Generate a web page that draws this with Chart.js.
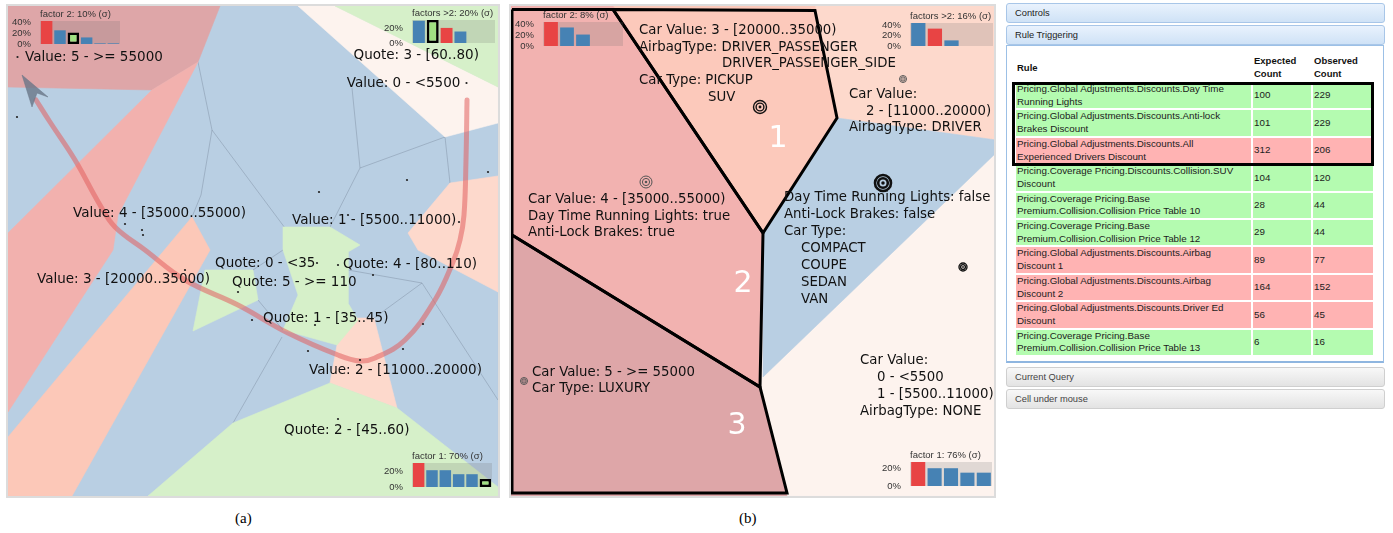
<!DOCTYPE html>
<html><head><meta charset="utf-8"><title>Voronoi rule maps</title>
<script src="https://cdn.jsdelivr.net/npm/chart.js@4.4.1/dist/chart.umd.min.js"></script>
<style>
html,body{margin:0;padding:0;background:#fff;}
body{width:1393px;height:533px;position:relative;overflow:hidden;}
canvas{position:absolute;}
.frame{position:absolute;border:2px solid #dcdcdc;box-sizing:border-box;pointer-events:none;}
.bar{position:absolute;left:1006px;width:379px;height:20px;box-sizing:border-box;border-radius:3px;font:9.3px "Liberation Sans",Arial,sans-serif;line-height:18px;padding-left:8px;color:#222;}
.blueBar{background:linear-gradient(#e9f2fd,#cfe2f6);border:1px solid #a8c6e8;}
.grayBar{background:linear-gradient(#f8f8f8,#e3e3e3);border:1px solid #cfcfcf;color:#444;}
#box{position:absolute;left:1006px;top:45px;width:378px;height:318px;box-sizing:border-box;border:1px solid #9cc0e6;border-bottom:2px solid #8fb6e0;background:#fff;}
#rules{position:absolute;left:1014px;top:53px;width:361px;border-collapse:separate;border-spacing:2px;table-layout:fixed;font:9.8px "Liberation Sans",Arial,sans-serif;color:#1c1c1c;}
#rules td,#rules th{padding:0 0 0 1px;vertical-align:middle;text-align:left;white-space:nowrap;line-height:12.7px;overflow:hidden;}
#rules th{font-weight:bold;font-size:9.5px;height:26px;color:#111;}
#rules td{height:25.2px;}
.ok{background:#b4fbb0;} .bad{background:#ffb3b3;}
#hl{position:absolute;left:1012px;top:81.5px;width:362px;height:84px;border:3px solid #000;box-sizing:border-box;}
.cap{position:absolute;top:510px;font:15px "Liberation Serif","Times New Roman",serif;color:#000;}
</style></head>
<body>
<canvas id="panelA" width="494" height="494" style="left:6px;top:4px"></canvas>
<canvas id="panelB" width="487" height="494" style="left:509px;top:4px"></canvas>
<div class="frame" style="left:6px;top:4px;width:494px;height:494px"></div>
<div class="frame" style="left:509px;top:4px;width:487px;height:494px"></div>

<div class="bar blueBar" style="top:3px">Controls</div>
<div class="bar blueBar" style="top:25px">Rule Triggering</div>
<div id="box"></div>
<table id="rules">
<colgroup><col style="width:235px"><col style="width:58px"><col style="width:60px"></colgroup>
<thead><tr><th>Rule</th><th>Expected<br>Count</th><th>Observed<br>Count</th></tr></thead>
<tbody id="rulesBody"></tbody>
</table>
<div id="hl"></div>
<div class="bar grayBar" style="top:367px">Current Query</div>
<div class="bar grayBar" style="top:389px">Cell under mouse</div>

<div class="cap" style="left:235px">(a)</div>
<div class="cap" style="left:739px">(b)</div>

<script>
// ================= DATA =================
// ---- Panel (a): Voronoi cells (map coordinates) ----
const cellA_background = [[8,6],[498,6],[498,496],[8,496]];
const cellA_value5 = [[8,6],[220,6],[198,62],[152,90],[8,87]];
const cellA_value4 = [[152,90],[198,62],[118,215],[113,250],[8,412],[8,233]];
const cellA_value3 = [[192,217],[210,250],[72,496],[8,496],[8,437]];
const cellA_value2 = [[355,318],[374,318],[397,408],[330,383],[337,345]];
const cellA_quote4 = [[450,183],[498,176],[498,292],[418,250],[408,233]];
const cellA_value0 = [[298,6],[335,6],[498,87],[498,123],[445,137]];
const cellA_quote3 = [[335,6],[498,6],[498,87]];
const cellA_quote0 = [[283,227],[330,227],[360,245],[348,252],[348,303],[358,320],[337,345],[283,330],[298,295],[283,250]];
const cellA_quote5 = [[205,270],[253,270],[258,300],[193,331]];
const cellA_quote2 = [[233,423],[330,383],[397,408],[498,487],[498,496],[148,496]];
const edgesA = [
  [[198,62],[212,130],[285,228]],
  [[212,130],[201,195],[192,217]],
  [[352,88],[360,168],[330,227]],
  [[360,168],[445,137]],
  [[445,137],[450,183]],
  [[253,270],[283,250]],
  [[258,300],[283,330]],
  [[282,337],[233,423]],
  [[348,270],[422,283],[498,400]],
  [[374,318],[422,283]]
];
const sitesA = [[17.5,57],[466.5,83],[348,215],[459,222],[317,263],[338,265],[252,320],[17,117],[319,192],[407,180],[488,172],
  [125,224],[142,230],[143,235],[185,270],[238,292],[315,325],[308,351],[423,324],[403,349],[373,275],[338,419],[360,360]];
const trajectoryA = [[467,100],[466,160],[464,215],[460,240],[453,262],[435,300],[405,340],[375,358],[360,361],[338,355],
  [288,333],[238,305],[185,280],[145,250],[115,227],[100,205],[75,160],[50,122],[36,100]];
const trajectoryHeadA = [[22,75],[48,97],[37,93],[32,107]];
const labelsA = [
  ['Value: 5 - >= 55000',25,57],
  ['Quote: 3 - [60..80)',353.5,55],
  ['Value: 0 - <5500',346.7,83],
  ['Value: 4 - [35000..55000)',73,213],
  ['Value: 1 - [5500..11000)',292,220],
  ['Value: 3 - [20000..35000)',37,279],
  ['Quote: 0 - <35',215,263],
  ['Quote: 4 - [80..110)',343,264],
  ['Quote: 5 - >= 110',232,282],
  ['Quote: 1 - [35..45)',263,318],
  ['Value: 2 - [11000..20000)',309,370],
  ['Quote: 2 - [45..60)',284,430]
];

// ---- Panel (b): clustered cells ----
const cellB_background = [[511,6],[996,6],[996,496],[511,496]];
const cellB_value2 = [[815,6],[996,6],[996,140],[837,118]];
const cellB_blue = [[837,118],[996,140],[996,153],[763,377],[763,233]];
const cellB_cluster1 = [[613,6],[815,6],[837,118],[763,233]];
const cellB_cluster2 = [[511,6],[613,6],[763,233],[760,387],[511,235]];
const cellB_cluster3 = [[511,235],[760,387],[787,496],[511,496]];
const outlineB_cluster1 = [[613,9.5],[815,10.5],[837,118],[763,233]];
const outlineB_cluster2 = [[512,9.5],[613,9.5],[763,233],[760,387],[512,235]];
const outlineB_cluster3 = [[512,235],[760,387],[787,493],[512,493]];
const targetsB = [[760,107,6.5,1],[646,182,6,0.5],[903,79,3.5,0.5],[883,183,8,2],[963,267,4,1],[524,381,3.5,0.5]];
const clusterNumbersB = [['1',778,139],['2',743,284],['3',737,426]];
const labelsB = [
  ['Car Value: 3 - [20000..35000)',639,31],
  ['AirbagType: DRIVER_PASSENGER',639,47.5],
  ['DRIVER_PASSENGER_SIDE',722,64],
  ['Car Type: PICKUP',639,81],
  ['SUV',708,98],
  ['Car Value:',849,95],
  ['2 - [11000..20000)',866,112],
  ['AirbagType: DRIVER',849,128],
  ['Car Value: 4 - [35000..55000)',528,200],
  ['Day Time Running Lights: true',528,217],
  ['Anti-Lock Brakes: true',528,233],
  ['Day Time Running Lights: false',784,198],
  ['Anti-Lock Brakes: false',784,215],
  ['Car Type:',784,232],
  ['COMPACT',801,249],
  ['COUPE',801,266],
  ['SEDAN',801,283],
  ['VAN',801,300],
  ['Car Value: 5 - >= 55000',532,373],
  ['Car Type: LUXURY',532,389],
  ['Car Value:',860,361],
  ['0 - <5500',877,378],
  ['1 - [5500..11000)',877,395],
  ['AirbagType: NONE',860,412]
];

// ---- Mini histograms ----
const miniA1Title = 'factor 2: 10% (σ)';
const miniA1Values = [42,25,21,12,1.2,1.2];
const miniA1Kinds = ['target','other','selected','other','other','other'];
const miniA1Ticks = [0,20,40];
const miniA2Title = 'factors >2: 20% (σ)';
const miniA2Values = [31,32,21,16,0,0];
const miniA2Kinds = ['other','selected','target','other','other','other'];
const miniA2Ticks = [0,20];
const miniA3Title = 'factor 1: 70% (σ)';
const miniA3Values = [30,21,21,16,16,10];
const miniA3Kinds = ['target','other','other','other','other','selected'];
const miniA3Ticks = [0,20];
const miniB1Title = 'factor 2: 8% (σ)';
const miniB1Values = [44,34,21,0,0];
const miniB1Kinds = ['target','other','other','other','other'];
const miniB1Ticks = [0,20,40];
const miniB2Title = 'factors >2: 16% (σ)';
const miniB2Values = [45,34,11,0,0];
const miniB2Kinds = ['other','target','other','other','other'];
const miniB2Ticks = [0,20,40];
const miniB3Title = 'factor 1: 76% (σ)';
const miniB3Values = [27,20,20,15,15];
const miniB3Kinds = ['target','other','other','other','other'];
const miniB3Ticks = [0,20];

// ---- Rule table ----
const ruleNames = [
  'Pricing.Global Adjustments.Discounts.Day Time\nRunning Lights',
  'Pricing.Global Adjustments.Discounts.Anti-lock\nBrakes Discount',
  'Pricing.Global Adjustments.Discounts.All\nExperienced Drivers Discount',
  'Pricing.Coverage Pricing.Discounts.Collision.SUV\nDiscount',
  'Pricing.Coverage Pricing.Base\nPremium.Collision.Collision Price Table 10',
  'Pricing.Coverage Pricing.Base\nPremium.Collision.Collision Price Table 12',
  'Pricing.Global Adjustments.Discounts.Airbag\nDiscount 1',
  'Pricing.Global Adjustments.Discounts.Airbag\nDiscount 2',
  'Pricing.Global Adjustments.Discounts.Driver Ed\nDiscount',
  'Pricing.Coverage Pricing.Base\nPremium.Collision.Collision Price Table 13'
];
const expectedCounts = [100,101,312,104,28,29,89,164,56,6];
const observedCounts = [229,229,206,120,44,44,77,152,45,16];

// ================= STYLES / LAYOUT =================
const COL = {blue:'#b9cfe3', red5:'#dea6a8', pink:'#f2b1ae', salmon:'#fcc8b8', lightSalmon:'#fdd9cc',
  white:'#fdf3ee', green:'#d6f0c9', pinkB:'#f2b2b0', salmonB:'#fcc9bb'};
const KIND_COLORS = {target:'#e84444', other:'#4682b4', selected:'#a0e182'};
const MINI_LAYOUT = {
  a1:[40,21,120,44], a2:[412,20,495,43], a3:[412,463,492,487],
  b1:[543,22,623,46], b2:[910,23,993,46], b3:[910,462,992,486]
};

// ================= HELPERS =================
const toPts = a => a.map(([x,y]) => ({x, y}));
function cell(vs, color){ const p = toPts(vs); p.push(p[0]);
  return {data:p, backgroundColor:color, borderColor:color, borderWidth:0.6, fill:'shape', pointRadius:0, tension:0}; }
function stroke(vs, color, w, extra){ return Object.assign({data:toPts(vs), borderColor:color, borderWidth:w, fill:false,
  pointRadius:0, tension:0, backgroundColor:'rgba(0,0,0,0)'}, extra||{}); }
function closedStroke(vs, color, w){ const p = vs.slice(); p.push(vs[0]); return stroke(p, color, w, {borderJoinStyle:'miter'}); }
function dots(vs, color, r){ return {data:toPts(vs), showLine:false, pointRadius:r, pointBackgroundColor:color,
  pointBorderWidth:0, borderColor:color, backgroundColor:color, fill:false}; }

function textPlugin(items, size, numbers){
  return {id:'mapText', afterDatasetsDraw(chart){
    const ctx = chart.ctx, sx = chart.scales.x, sy = chart.scales.y;
    ctx.save();
    ctx.textBaseline = 'middle'; ctx.textAlign = 'left';
    ctx.font = size + 'px "DejaVu Sans"'; ctx.fillStyle = '#111';
    items.forEach(([t,x,y]) => ctx.fillText(t, sx.getPixelForValue(x), sy.getPixelForValue(y)));
    if (numbers){
      ctx.font = '30px "DejaVu Sans"'; ctx.fillStyle = '#ffffff'; ctx.textAlign = 'center';
      numbers.forEach(([t,x,y]) => ctx.fillText(t, sx.getPixelForValue(x), sy.getPixelForValue(y)));
    }
    ctx.restore();
  }};
}

// Chart.js paints the first dataset last (on top), so layers are listed bottom-up and reversed here.
function mapChart(id, xr, yr, layers, plugin){
  return new Chart(document.getElementById(id), {
    type:'line', data:{datasets: layers.slice().reverse()},
    options:{responsive:false, animation:false, devicePixelRatio:1, events:[],
      layout:{padding:0, autoPadding:false},
      scales:{x:{type:'linear', display:false, min:xr[0], max:xr[1]},
              y:{type:'linear', display:false, min:yr[0], max:yr[1], reverse:true}},
      plugins:{legend:{display:false}, tooltip:{enabled:false}}},
    plugins:[plugin]
  });
}

// ================= PANEL (a) =================
const layersA = [
  cell(cellA_background, COL.blue),
  ...edgesA.map(e => stroke(e, 'rgba(105,120,140,0.35)', 1)),
  cell(cellA_value5, COL.red5),
  cell(cellA_value4, COL.pink),
  cell(cellA_value3, COL.salmon),
  cell(cellA_value2, COL.lightSalmon),
  cell(cellA_quote4, COL.lightSalmon),
  cell(cellA_value0, COL.white),
  cell(cellA_quote3, COL.green),
  cell(cellA_quote0, COL.green),
  cell(cellA_quote5, COL.green),
  cell(cellA_quote2, COL.green),
  stroke(trajectoryA, 'rgba(226,95,95,0.55)', 5, {tension:0.4, borderCapStyle:'round'}),
  cell(trajectoryHeadA, 'rgba(105,118,135,0.8)'),
  dots(sitesA, '#222', 1.1)
];
mapChart('panelA', [6,500], [4,498], layersA, textPlugin(labelsA, 13.5));

// ================= PANEL (b) =================
const ring = (scale, filled) => ({
  data: toPts(targetsB.map(t => [t[0], t[1]])), showLine:false, fill:false,
  pointRadius: targetsB.map(t => t[2]*scale),
  pointBorderWidth: targetsB.map(t => filled ? 0 : (t[3] > 1 ? 2.6 : (t[3] >= 1 ? 1.4 : 1))),
  pointBorderColor: targetsB.map(t => t[3] >= 1 ? '#111' : '#555'),
  pointBackgroundColor: targetsB.map(t => filled ? (t[3] >= 1 ? '#111' : '#555') : 'rgba(0,0,0,0)'),
  borderColor:'rgba(0,0,0,0)', backgroundColor:'rgba(0,0,0,0)'
});
const layersB = [
  cell(cellB_background, COL.white),
  cell(cellB_value2, COL.lightSalmon),
  cell(cellB_blue, COL.blue),
  cell(cellB_cluster1, COL.salmonB),
  cell(cellB_cluster2, COL.pinkB),
  cell(cellB_cluster3, COL.red5),
  closedStroke(outlineB_cluster1, '#000', 3),
  closedStroke(outlineB_cluster2, '#000', 3),
  closedStroke(outlineB_cluster3, '#000', 3),
  ring(1, false), ring(0.6, false), ring(0.22, true)
];
mapChart('panelB', [509,996], [4,498], layersB, textPlugin(labelsB, 13.3, clusterNumbersB));

// ================= MINI HISTOGRAMS =================
const plotBg = {id:'plotBg', beforeDatasetsDraw(chart){
  const {ctx, chartArea:a} = chart; ctx.save(); ctx.fillStyle = 'rgba(110,110,110,0.2)';
  ctx.fillRect(a.left, a.top, a.right - a.left, a.bottom - a.top); ctx.restore(); }};
function miniChart(rect, title, values, kinds, ticks){
  const axisW = 30, titleH = 16, padB = 6;
  const [l,t,r,b] = rect;
  const cv = document.createElement('canvas');
  const left = l - axisW, top = t - titleH;
  cv.width = r - left; cv.height = b - top + padB;
  cv.style.left = left + 'px'; cv.style.top = top + 'px';
  document.body.appendChild(cv);
  const yMax = Math.max(...values);
  const font = {family:'"Liberation Sans", Arial, sans-serif', size:9.5, lineHeight:1.2, weight:'normal'};
  new Chart(cv, {
    type:'bar',
    data:{labels: values.map((_,i) => 'bin ' + (i+1)), datasets:[{
      data: values,
      backgroundColor: kinds.map(k => KIND_COLORS[k]),
      borderColor: kinds.map(k => k === 'selected' ? '#000' : 'rgba(0,0,0,0)'),
      borderWidth: kinds.map(k => k === 'selected' ? 2.6 : 0),
      borderSkipped: false, barPercentage: 0.86, categoryPercentage: 1}]},
    options:{responsive:false, animation:false, devicePixelRatio:1, events:[],
      layout:{padding:{left:0, right:0, top:0, bottom:padB}, autoPadding:false},
      plugins:{legend:{display:false}, tooltip:{enabled:false},
        title:{display:true, text:title, align:'start', fullSize:false, color:'#333', font, padding:{top:3.6, bottom:1}}},
      scales:{x:{display:false},
        y:{min:0, max:yMax, afterFit(s){ s.width = axisW; }, afterBuildTicks(s){ s.ticks = ticks.map(v => ({value:v})); },
           grid:{display:false, drawTicks:true, tickLength:9}, border:{display:false},
           ticks:{padding:0, autoSkip:false, color:'#333', font, callback: v => v + '%'}}}},
    plugins:[plotBg]
  });
}
miniChart(MINI_LAYOUT.a1, miniA1Title, miniA1Values, miniA1Kinds, miniA1Ticks);
miniChart(MINI_LAYOUT.a2, miniA2Title, miniA2Values, miniA2Kinds, miniA2Ticks);
miniChart(MINI_LAYOUT.a3, miniA3Title, miniA3Values, miniA3Kinds, miniA3Ticks);
miniChart(MINI_LAYOUT.b1, miniB1Title, miniB1Values, miniB1Kinds, miniB1Ticks);
miniChart(MINI_LAYOUT.b2, miniB2Title, miniB2Values, miniB2Kinds, miniB2Ticks);
miniChart(MINI_LAYOUT.b3, miniB3Title, miniB3Values, miniB3Kinds, miniB3Ticks);

// ================= RULE TABLE =================
const tbody = document.getElementById('rulesBody');
ruleNames.forEach((name, i) => {
  const cls = observedCounts[i] >= expectedCounts[i] ? 'ok' : 'bad';
  const tr = document.createElement('tr');
  [name, String(expectedCounts[i]), String(observedCounts[i])].forEach(txt => {
    const td = document.createElement('td'); td.className = cls;
    txt.split('\n').forEach((line, k) => { if (k) td.appendChild(document.createElement('br')); td.appendChild(document.createTextNode(line)); });
    tr.appendChild(td);
  });
  tbody.appendChild(tr);
});
</script>
</body></html>
